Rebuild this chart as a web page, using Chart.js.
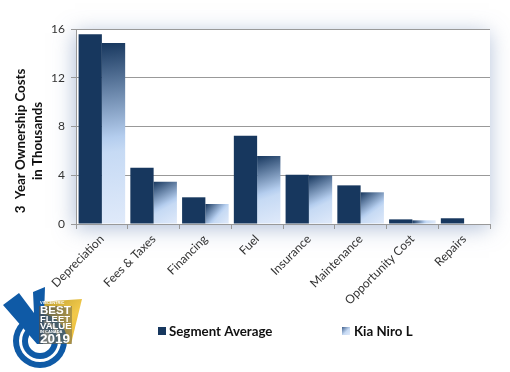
<!DOCTYPE html>
<html>
<head>
<meta charset="utf-8">
<style>
    html, body { margin: 0; padding: 0; background: #fff; }
    #wrap { width: 510px; height: 372px; }
</style>
<script src="https://cdn.jsdelivr.net/npm/chart.js@4"></script>
</head>
<body>
<div id="wrap"><canvas id="costChart" width="510" height="372"></canvas></div>
<script>
const categories = ['Depreciation', 'Fees & Taxes', 'Financing', 'Fuel', 'Insurance', 'Maintenance', 'Opportunity Cost', 'Repairs'];
const segmentAverage = [15.56, 4.62, 2.19, 7.25, 4.05, 3.17, 0.38, 0.47];
const kiaNiro = [14.85, 3.47, 1.64, 5.58, 3.97, 2.6, 0.3, 0];
const yTicks = [0, 4, 8, 12, 16];
const yTitle = ['3  Year Ownership Costs', 'in Thousands'];
const badgeLines = ['VINCENTRIC', 'BEST', 'FLEET', 'VALUE', 'IN CANADA', '2019'];

const DARK = '#17375E';
const FONT = 'Lato, "Open Sans", sans-serif';
const CAT_PCT = 0.9;

function kiaGradient(context) {
    if (context.type !== 'data') return '#C6D9F1';
    const { x, y } = context.chart.scales;
    const w = x.width / categories.length * CAT_PCT / 2;
    const left = x.getPixelForValue(context.dataIndex);
    const top = y.getPixelForValue(kiaNiro[context.dataIndex]);
    const bottom = y.getPixelForValue(0);
    // scales are not laid out yet on the first pass
    if (![w, left, top, bottom].every(Number.isFinite)) return '#C6D9F1';
    const g = context.chart.ctx.createLinearGradient(left, top, left + w, bottom);
    g.addColorStop(0, '#17375E');
    g.addColorStop(0.52, '#B4CDEE');
    g.addColorStop(0.6, '#C6DAF4');
    g.addColorStop(1, '#E0EAFA');
    return g;
}

// soft blue shadow behind the plot area
const plotShadow = {
    id: 'plotShadow',
    beforeDraw(chart) {
        const { ctx, chartArea: a } = chart;
        ctx.save();
        ctx.fillStyle = '#fff';
        ctx.fillRect(0, 0, chart.width, chart.height);
        ctx.shadowColor = 'rgba(95,125,175,0.5)';
        ctx.shadowBlur = 20;
        ctx.shadowOffsetX = -1;
        ctx.shadowOffsetY = 4;
        ctx.fillRect(a.left, a.top, a.right - a.left, a.bottom - a.top);
        ctx.restore();
    }
};

// the axis title sits lower than the plot centre, so the native one can't be used
const axisTitle = {
    id: 'axisTitle',
    afterDraw(chart) {
        const { ctx } = chart;
        const xs = [20.5, 38];
        ctx.save();
        ctx.font = 'bold 13.3px ' + FONT;
        ctx.fillStyle = '#111';
        ctx.textAlign = 'center';
        ctx.textBaseline = 'middle';
        yTitle.forEach((line, i) => {
            ctx.save();
            ctx.translate(xs[i], 141);
            ctx.rotate(-Math.PI / 2);
            ctx.fillText(line, 0, 0);
            ctx.restore();
        });
        ctx.restore();
    }
};

// legend is spaced wider than the built-in one allows
const wideLegend = {
    id: 'wideLegend',
    afterDraw(chart) {
        const { ctx } = chart;
        const items = [{ box: 158, text: 169 }, { box: 342, text: 354 }];
        ctx.save();
        ctx.font = 'bold 13.3px ' + FONT;
        ctx.textBaseline = 'middle';
        chart.data.datasets.forEach((ds, i) => {
            if (i === 0) {
                ctx.fillStyle = DARK;
            } else {
                const g = ctx.createLinearGradient(items[i].box, 327, items[i].box + 8, 335);
                g.addColorStop(0, '#3F5F8C');
                g.addColorStop(0.55, '#C6DAF4');
                g.addColorStop(1, '#E0EAFA');
                ctx.fillStyle = g;
            }
            ctx.fillRect(items[i].box, 327, 8, 8);
            ctx.fillStyle = '#111';
            ctx.fillText(ds.label, items[i].text, 332);
        });
        ctx.restore();
    }
};

// award badge, bottom left
const badge = {
    id: 'badge',
    afterDraw(chart) {
        const { ctx } = chart;
        const cx = 40, cy = 341;
        const blue = '#0F5AA6';
        ctx.save();
        const gold = ctx.createLinearGradient(40, 300, 82, 340);
        gold.addColorStop(0, '#B89A2E');
        gold.addColorStop(0.6, '#F2C94A');
        gold.addColorStop(1, '#E8B93A');
        ctx.fillStyle = gold;
        ctx.beginPath();
        ctx.moveTo(39, 302); ctx.lineTo(82, 299); ctx.lineTo(71, 344); ctx.lineTo(40, 344);
        ctx.closePath();
        ctx.fill();

        [[27, blue], [21, '#fff'], [18, blue], [12, '#fff']].forEach(([r, c]) => {
            ctx.fillStyle = c;
            ctx.beginPath();
            ctx.arc(cx, cy, r, 0, Math.PI * 2);
            ctx.fill();
        });
        ctx.fillStyle = blue;
        ctx.beginPath();
        ctx.moveTo(3, 305); ctx.lineTo(19, 293); ctx.lineTo(34, 313);
        ctx.lineTo(33, 292); ctx.lineTo(45, 287); ctx.lineTo(43, 344);
        ctx.lineTo(37, 344);
        ctx.closePath();
        ctx.fill();

        // grey backing behind the white lettering
        const back = ctx.createLinearGradient(39, 0, 72, 0);
        back.addColorStop(0, 'rgba(70,80,90,0.85)');
        back.addColorStop(1, 'rgba(120,110,70,0.55)');
        ctx.fillStyle = back;
        ctx.fillRect(39, 306, 33, 38);

        ctx.fillStyle = '#fff';
        ctx.textBaseline = 'middle';
        const fonts = ['bold 4px ', 'bold 11.5px ', 'bold 9.5px ', 'bold 9.5px ', 'bold 4px ', 'bold 13.5px '];
        const ys = [303, 311, 319.5, 326.5, 332, 339.5];
        badgeLines.forEach((line, i) => {
            ctx.font = fonts[i] + '"Liberation Sans", sans-serif';
            ctx.fillText(line, 40, ys[i]);
        });
        ctx.restore();
    }
};

new Chart(document.getElementById('costChart'), {
    type: 'bar',
    data: {
        labels: categories,
        datasets: [
            { label: 'Segment Average', data: segmentAverage, backgroundColor: DARK },
            { label: 'Kia Niro L', data: kiaNiro, backgroundColor: kiaGradient }
        ]
    },
    options: {
        responsive: false,
        animation: false,
        layout: { padding: { top: 29, right: 20, bottom: 0, left: 0 } },
        datasets: { bar: { barPercentage: 1, categoryPercentage: CAT_PCT } },
        scales: {
            x: {
                afterFit(scale) { scale.height = 148; },
                border: { color: '#999', width: 1 },
                grid: { drawOnChartArea: false, color: '#999', tickLength: 5 },
                ticks: { minRotation: 45, maxRotation: 45, color: '#333', font: { family: FONT, size: 12 }, padding: 3 }
            },
            y: {
                min: 0,
                max: 16,
                afterFit(scale) { scale.width = 76; },
                afterBuildTicks(scale) { scale.ticks = yTicks.map(v => ({ value: v })); },
                border: { color: '#999', width: 1 },
                grid: { color: '#999', tickLength: 5 },
                ticks: { color: '#333', font: { family: FONT, size: 12 }, padding: 6 }
            }
        },
        plugins: {
            legend: { display: false },
            tooltip: { enabled: false }
        }
    },
    plugins: [plotShadow, axisTitle, wideLegend, badge]
});
</script>
</body>
</html>
